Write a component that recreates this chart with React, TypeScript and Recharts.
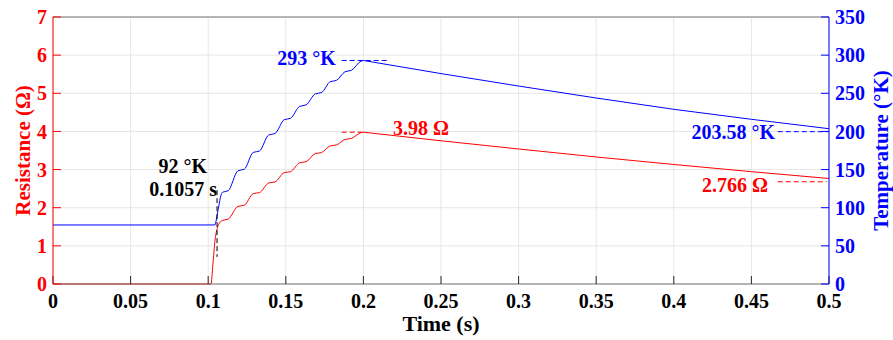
import {
  ComposedChart,
  Line,
  XAxis,
  YAxis,
  CartesianGrid,
  ReferenceLine,
  ReferenceDot
} from "recharts";

// time axis (s) and tick values
const X_TICKS = [0, 0.05, 0.1, 0.15, 0.2, 0.25, 0.3, 0.35, 0.4, 0.45, 0.5];
const R_TICKS = [0, 1, 2, 3, 4, 5, 6, 7];
const T_TICKS = [0, 50, 100, 150, 200, 250, 300, 350];

// resistance (ohm), red, left axis
const TIME_R = [
  0, 0.1018, 0.103, 0.1044, 0.106, 0.1076, 0.1092, 0.1128,
  0.1192, 0.1232, 0.129, 0.133, 0.139, 0.143, 0.149, 0.153,
  0.159, 0.163, 0.169, 0.173, 0.1786, 0.1826, 0.1882, 0.1922,
  0.1985, 0.2, 0.25, 0.3, 0.35, 0.4, 0.45, 0.5
];
const RESISTANCE = [
  0, 0, 0.5, 1.15, 1.48, 1.62, 1.665, 1.7,
  2.035, 2.065, 2.37, 2.395, 2.65, 2.675, 2.92, 2.945,
  3.18, 3.205, 3.42, 3.445, 3.62, 3.645, 3.79, 3.815,
  3.97, 3.98, 3.755, 3.54, 3.33, 3.133, 2.945, 2.766
];

// temperature (K), blue, right axis
const TIME_T = [
  0, 0.1044, 0.1052, 0.1068, 0.1082, 0.1092, 0.1128,
  0.1192, 0.1232, 0.129, 0.133, 0.139, 0.143, 0.149, 0.153,
  0.159, 0.163, 0.169, 0.173, 0.1786, 0.1826, 0.1882, 0.1922,
  0.1985, 0.2, 0.25, 0.3, 0.35, 0.4, 0.45, 0.5
];
const TEMPERATURE = [
  77.4, 77.4, 84, 102, 116, 120.3, 122.2,
  148.5, 150.4, 172.5, 174.3, 195.4, 197.2, 215.4, 217.2,
  232.9, 234.7, 249.2, 250.9, 265.2, 266.9, 278.3, 280,
  292.2, 293, 275.8, 259.5, 243.8, 229, 215.9, 203.58
];

const PEAK_T = 0.2;

const rData = TIME_R.map((t, i) => ({ t, r: RESISTANCE[i] }));
const tData = TIME_T.map((t, i) => ({ t, k: TEMPERATURE[i] }));
// heating part is smooth, cooling part is drawn straight from the peak
const rRise = rData.filter((d) => d.t <= PEAK_T);
const rFall = rData.filter((d) => d.t >= PEAK_T);
const tRise = tData.filter((d) => d.t <= PEAK_T);
const tFall = tData.filter((d) => d.t >= PEAK_T);

const FONT = "'Liberation Serif', 'Times New Roman', serif";
const RED = "#ff0000";
const BLUE = "#0000ff";
const AXIS_GRAY = "#767676";

const tickStyle = (fill: string) => ({
  fill,
  fontSize: 20,
  fontWeight: "bold",
  fontFamily: FONT
});

function AxisTitle(props: any) {
  const { viewBox, text, color, dx } = props;
  const cx = viewBox.x + dx;
  const cy = viewBox.y + viewBox.height / 2;
  return (
    <text
      x={cx}
      y={cy}
      transform={`rotate(-90 ${cx} ${cy})`}
      textAnchor="middle"
      dominantBaseline="central"
      fill={color}
      fontSize={21}
      fontWeight="bold"
      fontFamily={FONT}
    >
      {text}
    </text>
  );
}

const annot = (text: string, color: string, anchor: string) => (p: any) => (
  <text
    x={p.cx}
    y={p.cy}
    fill={color}
    textAnchor={anchor}
    fontSize={20}
    fontWeight="bold"
    fontFamily={FONT}
  >
    {text}
  </text>
);

export default function App() {
  return (
    <div style={{ position: "absolute", left: 0, top: 0, background: "#fff" }}>
      <ComposedChart
        width={893}
        height={340}
        margin={{ top: 17, right: 0, bottom: 0, left: 0 }}
      >
        <CartesianGrid yAxisId="left" stroke="#e6e6e6" />

        <XAxis
          type="number"
          dataKey="t"
          domain={[0, 0.5]}
          ticks={X_TICKS}
          interval={0}
          height={56}
          tickSize={-8}
          tickMargin={18}
          stroke={AXIS_GRAY}
          tickLine={{ stroke: "#262626" }}
          tick={tickStyle("#000")}
          label={{
            value: "Time (s)",
            position: "insideBottom",
            offset: 9,
            fill: "#000",
            fontSize: 22,
            fontWeight: "bold",
            fontFamily: FONT
          }}
        />
        <YAxis
          yAxisId="left"
          domain={[0, 7]}
          ticks={R_TICKS}
          interval={0}
          width={53}
          tickSize={-8}
          tickMargin={14}
          stroke={RED}
          tick={tickStyle(RED)}
          label={<AxisTitle text="Resistance (Ω)" color={RED} dx={23} />}
        />
        <YAxis
          yAxisId="right"
          orientation="right"
          domain={[0, 350]}
          ticks={T_TICKS}
          interval={0}
          width={64}
          tickSize={-8}
          tickMargin={14}
          stroke={BLUE}
          tick={tickStyle(BLUE)}
          label={<AxisTitle text="Temperature (°K)" color={BLUE} dx={52} />}
        />

        <ReferenceLine yAxisId="left" y={7} stroke={AXIS_GRAY} />

        <Line
          yAxisId="left"
          data={rRise}
          dataKey="r"
          type="monotone"
          stroke={RED}
          strokeWidth={1}
          dot={false}
          isAnimationActive={false}
        />
        <Line
          yAxisId="left"
          data={rFall}
          dataKey="r"
          type="linear"
          stroke={RED}
          strokeWidth={1}
          dot={false}
          isAnimationActive={false}
        />
        <Line
          yAxisId="right"
          data={tRise}
          dataKey="k"
          type="monotone"
          stroke={BLUE}
          strokeWidth={1}
          dot={false}
          isAnimationActive={false}
        />
        <Line
          yAxisId="right"
          data={tFall}
          dataKey="k"
          type="linear"
          stroke={BLUE}
          strokeWidth={1}
          dot={false}
          isAnimationActive={false}
        />

        <ReferenceLine
          yAxisId="right"
          segment={[{ x: 0.186, y: 293 }, { x: 0.216, y: 293 }]}
          stroke={BLUE}
          strokeDasharray="5 3"
        />
        <ReferenceLine
          yAxisId="left"
          segment={[{ x: 0.186, y: 3.98 }, { x: 0.199, y: 3.98 }]}
          stroke={RED}
          strokeDasharray="5 3"
        />
        <ReferenceLine
          yAxisId="left"
          segment={[{ x: 0.1057, y: 2.46 }, { x: 0.1057, y: 0.71 }]}
          stroke="#000"
          strokeDasharray="5 3"
        />
        <ReferenceLine
          yAxisId="right"
          segment={[{ x: 0.467, y: 199.7 }, { x: 0.4995, y: 199.7 }]}
          stroke={BLUE}
          strokeDasharray="5 3"
        />
        <ReferenceLine
          yAxisId="left"
          segment={[{ x: 0.467, y: 2.68 }, { x: 0.4985, y: 2.68 }]}
          stroke={RED}
          strokeDasharray="5 3"
        />

        <ReferenceDot yAxisId="right" x={0.1823} y={287.1} shape={annot("293 °K", BLUE, "end")} />
        <ReferenceDot yAxisId="left" x={0.2191} y={3.907} shape={annot("3.98 Ω", RED, "start")} />
        <ReferenceDot yAxisId="left" x={0.0992} y={2.91} shape={annot("92 °K", "#000", "end")} />
        <ReferenceDot yAxisId="left" x={0.1057} y={2.3} shape={annot("0.1057 s", "#000", "end")} />
        <ReferenceDot yAxisId="right" x={0.4652} y={190.1} shape={annot("203.58 °K", BLUE, "end")} />
        <ReferenceDot yAxisId="left" x={0.4607} y={2.412} shape={annot("2.766 Ω", RED, "end")} />
      </ComposedChart>
    </div>
  );
}
